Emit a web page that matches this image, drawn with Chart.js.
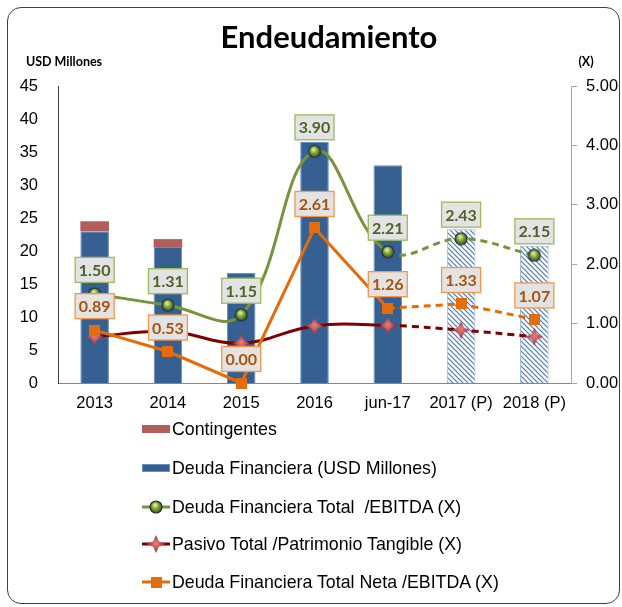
<!DOCTYPE html>
<html>
<head>
<meta charset="utf-8">
<script src="https://cdn.jsdelivr.net/npm/chart.js@4.4.1/dist/chart.umd.min.js"></script>
<style>
  body { margin: 0; background: #fff; }
  #wrap { position: relative; width: 622px; height: 607px; overflow: hidden; }
  #frame {
    position: absolute; left: 7px; top: 7px; width: 613px; height: 597px;
    border: 1.5px solid #404040; border-radius: 14px; box-sizing: border-box;
  }
  #chart { position: absolute; left: 0; top: 0; }
  .leg { position: absolute; left: 142px; height: 20px; display: flex; align-items: center;
         font: 17.8px "Liberation Sans", Arial, sans-serif; color: #000; white-space: pre; }
  .leg canvas { margin-right: 2px; }
</style>
</head>
<body>
<div id="wrap">
  <div id="frame"></div>
  <canvas id="chart" width="622" height="607"></canvas>
  <div id="legend"></div>
</div>
<script>
// categories and values
const categories = ['2013', '2014', '2015', '2016', 'jun-17', '2017 (P)', '2018 (P)'];
const deudaFinanciera = [23.0, 20.6, 16.7, 36.5, 33.0, 23.3, 20.8];
const contingentes = [1.5, 1.2, null, null, null, null, null];
const deudaEbitda = [1.50, 1.31, 1.15, 3.90, 2.21, 2.43, 2.15];
const pasivoPatrimonio = [0.78, 0.87, 0.67, 0.96, 0.97, 0.89, 0.78];
const deudaNetaEbitda = [0.89, 0.53, 0.00, 2.61, 1.26, 1.33, 1.07];
const projected = [false, false, false, false, false, true, true];

const BLUE = '#376092';
const RED_BAR = '#b05e5c';
const GREEN = '#77933c';
const DARK_RED = '#7f0000';
const ORANGE = '#e46c0a';

function hatch() {
  const c = document.createElement('canvas');
  c.width = c.height = 5;
  const g = c.getContext('2d');
  g.fillStyle = '#fff';
  g.fillRect(0, 0, 5, 5);
  g.strokeStyle = '#4a78b5';
  g.lineWidth = 1.2;
  g.beginPath();
  for (let k = -5; k <= 5; k += 5) {
    g.moveTo(k - 1, -1);
    g.lineTo(k + 6, 6);
  }
  g.stroke();
  return g.createPattern(c, 'repeat');
}

function ball() {
  const c = document.createElement('canvas');
  c.width = c.height = 14;
  const g = c.getContext('2d');
  const gr = g.createRadialGradient(6, 5, 1, 7, 7, 7);
  gr.addColorStop(0, '#d2ea8c');
  gr.addColorStop(0.5, '#6f8f2f');
  gr.addColorStop(1, '#3b4d1c');
  g.fillStyle = gr;
  g.beginPath(); g.arc(7, 7, 6, 0, Math.PI * 2); g.fill();
  g.strokeStyle = '#1f2d3d'; g.lineWidth = 1.2; g.stroke();
  return c;
}

function star() {
  const c = document.createElement('canvas');
  c.width = c.height = 18;
  const g = c.getContext('2d');
  const gr = g.createRadialGradient(9, 8, 1, 9, 9, 9);
  gr.addColorStop(0, '#e27a78');
  gr.addColorStop(1, '#9a2e2c');
  g.fillStyle = gr;
  g.beginPath();
  for (let i = 0; i < 8; i++) {
    const a = i * Math.PI / 4 - Math.PI / 2;
    const r = i % 2 === 0 ? 9 : 4;
    g.lineTo(9 + r * Math.cos(a), 9 + r * Math.sin(a));
  }
  g.closePath(); g.fill();
  return c;
}

function square() {
  const c = document.createElement('canvas');
  c.width = c.height = 11;
  const g = c.getContext('2d');
  g.fillStyle = ORANGE;
  g.fillRect(0, 0, 11, 11);
  return c;
}

const ballImg = ball(), starImg = star(), squareImg = square();
const hatchFill = hatch();
const dashAfterJun = { borderDash: ctx => ctx.p0DataIndex >= 4 ? [7, 5] : undefined };

// boxed value labels above the points
const boxLabels = {
  id: 'boxLabels',
  afterDatasetsDraw(chart) {
    const ctx = chart.ctx;
    chart.data.datasets.forEach((ds, i) => {
      if (!ds.box) return;
      chart.getDatasetMeta(i).data.forEach((pt, j) => {
        const x = pt.x, y = pt.y - 24;
        ctx.save();
        ctx.fillStyle = '#e3e3e3';
        ctx.fillRect(x - 19.5, y - 12.5, 39, 25);
        ctx.strokeStyle = ds.box.border;
        ctx.lineWidth = 1.3;
        ctx.strokeRect(x - 19.5, y - 12.5, 39, 25);
        ctx.fillStyle = ds.box.text;
        ctx.font = 'bold 16px Lato, sans-serif';
        ctx.textAlign = 'center';
        ctx.textBaseline = 'middle';
        ctx.fillText(ds.data[j].toFixed(2), x, y + 1);
        ctx.restore();
      });
    });
  }
};

// title and axis captions
const captions = {
  id: 'captions',
  afterDraw(chart) {
    const ctx = chart.ctx;
    ctx.save();
    ctx.fillStyle = '#000';
    ctx.textBaseline = 'middle';
    ctx.textAlign = 'center';
    ctx.font = 'bold 31px Lato, sans-serif';
    ctx.fillText('Endeudamiento', 329, 38);
    ctx.font = 'bold 12.5px Lato, sans-serif';
    ctx.fillText('USD Millones', 64, 62);
    ctx.fillText('(X)', 586, 62);
    ctx.restore();
  }
};

const chart = new Chart(document.getElementById('chart'), {
  data: {
    labels: categories,
    datasets: [
      {
        type: 'bar', label: 'Deuda Financiera (USD Millones)', data: deudaFinanciera,
        yAxisID: 'y', order: 10,
        backgroundColor: projected.map(p => p ? hatchFill : BLUE),
        borderColor: projected.map(p => p ? '#95b3d7' : '#6a8cbf'),
        borderWidth: 1, barPercentage: 0.39, categoryPercentage: 1
      },
      {
        type: 'bar', label: 'Contingentes', data: contingentes,
        yAxisID: 'y', order: 10,
        backgroundColor: RED_BAR, borderWidth: 0, barPercentage: 0.39, categoryPercentage: 1
      },
      {
        type: 'line', label: 'Pasivo Total /Patrimonio Tangible (X)', data: pasivoPatrimonio,
        yAxisID: 'y1', order: 3, borderColor: DARK_RED, borderWidth: 3, tension: 0.4,
        pointStyle: starImg, segment: dashAfterJun, clip: false
      },
      {
        type: 'line', label: 'Deuda Financiera Total  /EBITDA (X)', data: deudaEbitda,
        yAxisID: 'y1', order: 2, borderColor: GREEN, borderWidth: 3, tension: 0.4,
        pointStyle: ballImg, segment: dashAfterJun, clip: false,
        box: { border: '#9bbb59', text: '#4f6228' }
      },
      {
        type: 'line', label: 'Deuda Financiera Total Neta /EBITDA (X)', data: deudaNetaEbitda,
        yAxisID: 'y1', order: 1, borderColor: ORANGE, borderWidth: 3, tension: 0,
        pointStyle: squareImg, segment: dashAfterJun, clip: false,
        box: { border: '#f79646', text: '#a8520c' }
      }
    ]
  },
  options: {
    responsive: false,
    animation: false,
    devicePixelRatio: 1,
    layout: { padding: { top: 86, left: 0, right: 0, bottom: 0 } },
    plugins: { legend: { display: false }, tooltip: { enabled: false } },
    events: [],
    scales: {
      x: {
        stacked: true,
        grid: { display: false, drawTicks: false },
        border: { color: '#868686', width: 1 },
        ticks: { color: '#000', padding: 11, font: { family: 'Liberation Sans', size: 16.5 }, maxRotation: 0, autoSkip: false },
        afterFit: s => { s.height = 224; }
      },
      y: {
        position: 'left', stacked: true, min: 0, max: 45,
        grid: { display: false, drawTicks: false },
        border: { color: '#404040', width: 1 },
        ticks: { stepSize: 5, color: '#000', padding: 20, font: { family: 'Liberation Sans', size: 16.5 } },
        afterFit: s => { s.width = 58; }
      },
      y1: {
        position: 'right', min: 0, max: 5,
        grid: { display: true, drawOnChartArea: false, drawTicks: true, tickLength: 6, color: '#a6a6a6' },
        border: { color: '#a6a6a6', width: 1 },
        ticks: { stepSize: 1, color: '#000', padding: 9, font: { family: 'Liberation Sans', size: 16.5 },
                 callback: v => v.toFixed(2) },
        afterFit: s => { s.width = 51; }
      }
    }
  },
  plugins: [boxLabels, captions]
});

// legend, one entry per row as in the picture
const legendRows = [
  { label: 'Contingentes', kind: 'bar', color: RED_BAR },
  { label: 'Deuda Financiera (USD Millones)', kind: 'bar', color: BLUE, edge: '#6a8cbf' },
  { label: 'Deuda Financiera Total  /EBITDA (X)', kind: 'line', color: GREEN, img: ballImg },
  { label: 'Pasivo Total /Patrimonio Tangible (X)', kind: 'line', color: DARK_RED, img: starImg },
  { label: 'Deuda Financiera Total Neta /EBITDA (X)', kind: 'line', color: ORANGE, img: squareImg }
];
const legendY = [429, 468, 507, 544, 582];
const legendBox = document.getElementById('legend');
legendRows.forEach((r, i) => {
  const item = document.createElement('div');
  item.className = 'leg';
  item.style.top = (legendY[i] - 10) + 'px';
  const c = document.createElement('canvas');
  c.width = 28; c.height = 18;
  const g = c.getContext('2d');
  if (r.kind === 'bar') {
    g.fillStyle = r.color;
    g.fillRect(0, 5, 28, 8);
    if (r.edge) { g.strokeStyle = r.edge; g.lineWidth = 1; g.strokeRect(0.5, 5.5, 27, 7); }
  } else {
    g.strokeStyle = r.color; g.lineWidth = 3;
    g.beginPath(); g.moveTo(0, 9); g.lineTo(28, 9); g.stroke();
    g.drawImage(r.img, 14 - r.img.width / 2, 9 - r.img.height / 2);
  }
  item.appendChild(c);
  const t = document.createElement('span');
  t.textContent = r.label;
  item.appendChild(t);
  legendBox.appendChild(item);
});
</script>
</body>
</html>
